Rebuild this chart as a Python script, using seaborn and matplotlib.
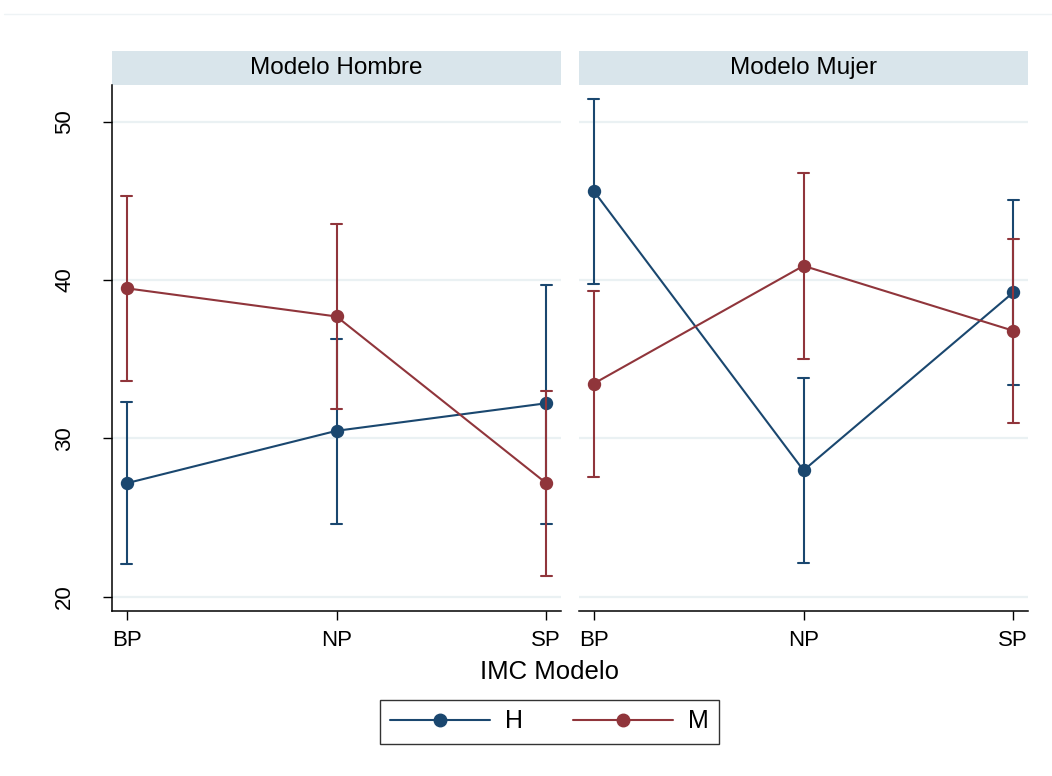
import matplotlib
matplotlib.use("Agg")
import matplotlib.pyplot as plt
import pandas as pd
import seaborn as sns
from matplotlib.patches import Rectangle
from matplotlib.lines import Line2D

# Categories and panels
categorias = ["BP", "NP", "SP"]
paneles = ["Modelo Hombre", "Modelo Mujer"]
sexos = ["H", "M"]

# Panel "Modelo Hombre": mean and 95% CI bounds per category
hombre_h_media = [27.17, 30.48, 32.22]
hombre_h_inf = [22.04, 24.60, 24.60]
hombre_h_sup = [32.32, 36.30, 39.72]
hombre_m_media = [39.48, 37.70, 27.17]
hombre_m_inf = [33.61, 31.83, 21.30]
hombre_m_sup = [45.33, 43.57, 33.02]

# Panel "Modelo Mujer"
mujer_h_media = [45.63, 27.98, 39.22]
mujer_h_inf = [39.76, 22.10, 33.35]
mujer_h_sup = [51.46, 33.80, 45.04]
mujer_m_media = [33.46, 40.90, 36.80]
mujer_m_inf = [27.59, 35.04, 30.96]
mujer_m_sup = [39.30, 46.76, 42.61]

yticks = [20, 30, 40, 50]

navy = "#1a476f"
maroon = "#90353b"
grid_col = "#eaf1f3"
strip_col = "#d9e5eb"

sns.set_theme(style="white")
plt.rcParams["font.family"] = ["Liberation Sans", "DejaVu Sans"]
plt.rcParams["text.color"] = "black"
plt.rcParams["xtick.color"] = "black"
plt.rcParams["ytick.color"] = "black"

# Long table: each estimate stored as (lower, mean, upper); the median
# recovers the mean and the full-range interval recovers the CI.
rows = []


def add(panel, sexo, inf, media, sup):
    for c, a, m, b in zip(categorias, inf, media, sup):
        for v in (a, m, b):
            rows.append({"panel": panel, "imc": c, "sexo": sexo, "valor": v})


add("Modelo Hombre", "H", hombre_h_inf, hombre_h_media, hombre_h_sup)
add("Modelo Hombre", "M", hombre_m_inf, hombre_m_media, hombre_m_sup)
add("Modelo Mujer", "H", mujer_h_inf, mujer_h_media, mujer_h_sup)
add("Modelo Mujer", "M", mujer_m_inf, mujer_m_media, mujer_m_sup)
df = pd.DataFrame(rows)

W, H = 1052, 776
fig = plt.figure(figsize=(W / 100, H / 100), dpi=100)
fig.patch.set_facecolor("white")

# faint top edge of the graph region
fig.add_artist(Line2D([4 / W, 1.0], [1 - 14 / H, 1 - 14 / H],
                      transform=fig.transFigure, color="#eef3f5",
                      linewidth=1.0))

ax_bottom = 1 - 611 / H
ax_height = (611 - 85) / H
lefts = [112 / W, 579 / W]
ax_width = 449 / W

palette = {"H": navy, "M": maroon}

for i, panel in enumerate(paneles):
    ax = fig.add_axes([lefts[i], ax_bottom, ax_width, ax_height])
    sub = df[df["panel"] == panel]
    sns.pointplot(
        data=sub, x="imc", y="valor", hue="sexo",
        order=categorias, hue_order=sexos, palette=palette,
        estimator="median", errorbar=("pi", 100),
        capsize=0.05, markers="o", linestyles="-",
        err_kws={"linewidth": 1.5}, linewidth=1.5, markersize=8.5,
        legend=False, ax=ax,
    )
    ax.set_xlim(-0.07, 2.07)
    ax.set_ylim(19.1, 52.32)
    ax.set_yticks(yticks)
    ax.set_xlabel("")
    ax.set_ylabel("")
    ax.grid(False)
    for y in yticks:
        ax.axhline(y, color=grid_col, linewidth=1.6, zorder=0)

    for s in ["top", "right"]:
        ax.spines[s].set_visible(False)
    ax.spines["bottom"].set_color("black")
    ax.spines["bottom"].set_linewidth(1.1)
    if i == 0:
        ax.spines["left"].set_color("black")
        ax.spines["left"].set_linewidth(1.1)
        ax.tick_params(axis="y", left=True, length=6.5, width=1.0,
                       color="black", labelcolor="black", pad=20,
                       labelsize=16)
        for lab in ax.get_yticklabels():
            lab.set_rotation(90)
            lab.set_va("center")
    else:
        ax.spines["left"].set_visible(False)
        ax.tick_params(axis="y", left=False, labelleft=False)
    ax.tick_params(axis="x", bottom=True, length=6.5, width=1.0,
                   color="black", labelcolor="black", pad=7, labelsize=16)

    # panel strip
    ax.add_patch(Rectangle((0, 1.0), 1, 34 / 526, transform=ax.transAxes,
                           facecolor=strip_col, edgecolor="none",
                           clip_on=False))
    ax.text(0.5, 1.0 + 17 / 526, panel, transform=ax.transAxes,
            ha="center", va="center", fontsize=17.5, color="black")

fig.text(549.5 / W, 1 - 672 / H, "IMC Modelo", ha="center", va="center",
         fontsize=18.5, color="black")

handles = [
    Line2D([], [], color=navy, marker="o", markersize=9, linewidth=1.5),
    Line2D([], [], color=maroon, marker="o", markersize=9, linewidth=1.5),
]
leg = fig.legend(handles, sexos, loc="center", ncol=2,
                 bbox_to_anchor=(549.5 / W, 1 - 721.5 / H),
                 fontsize=18, frameon=True, fancybox=False,
                 handlelength=4.0, handletextpad=0.6, columnspacing=2.0,
                 borderpad=0.4, borderaxespad=0)
leg.get_frame().set_edgecolor("black")
leg.get_frame().set_linewidth(1.0)
for t in leg.get_texts():
    t.set_color("black")

fig.savefig("out.png", dpi=100, facecolor="white")
